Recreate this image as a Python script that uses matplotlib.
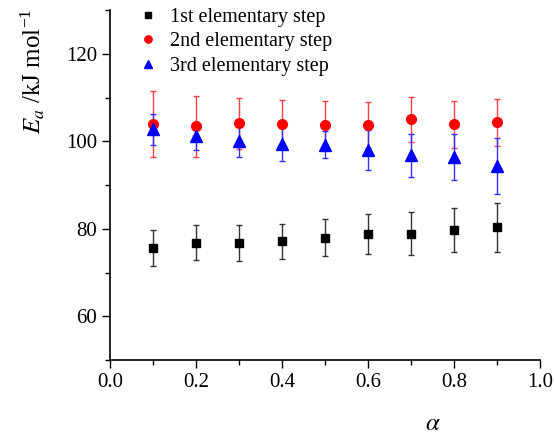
import matplotlib.pyplot as plt
from matplotlib.lines import Line2D
from matplotlib.ticker import MultipleLocator

plt.rcParams['font.family'] = ['Liberation Serif', 'DejaVu Serif']
plt.rcParams['mathtext.fontset'] = 'stix'

# conversion degree
alpha = [0.1, 0.2, 0.3, 0.4, 0.5, 0.6, 0.7, 0.8, 0.9]

# activation energies (kJ/mol) and error bars for each step
ea_step1 = [75.6, 76.8, 76.7, 77.1, 78.0, 78.8, 78.9, 79.8, 80.3]
err_step1 = [4.1, 4.0, 4.05, 4.0, 4.2, 4.5, 4.9, 5.0, 5.7]

ea_step2 = [104.0, 103.4, 104.1, 103.9, 103.8, 103.7, 105.0, 103.9, 104.3]
err_step2 = [7.5, 7.0, 5.9, 5.5, 5.5, 5.3, 5.1, 5.4, 5.3]

ea_step3 = [102.7, 101.3, 100.0, 99.3, 99.2, 98.0, 96.8, 96.4, 94.4]
err_step3 = [3.6, 3.2, 3.6, 3.8, 3.1, 4.6, 4.9, 5.2, 6.4]

labels = ['1st elementary step', '2nd elementary step', '3rd elementary step']
markers = ['s', 'o', '^']
colors = ['black', '#ff0000', '#0000ff']
ecolors = ['#333333', '#ff4040', '#3030ff']
sizes = [6, 7, 8]

fig = plt.figure(figsize=(5.54, 4.36), dpi=100)
ax = fig.add_axes([0.1986, 0.1743, 0.7761, 0.8027])

series = [(ea_step1, err_step1), (ea_step2, err_step2), (ea_step3, err_step3)]
for (vals, errs), m, c, ec, s in zip(series, markers, colors, ecolors, sizes):
    ax.errorbar(alpha, vals, yerr=errs, fmt=m, color=c, ecolor=ec, ms=s,
                capsize=2.5, elinewidth=1, capthick=1)

ax.set_xlim(0, 1.0)
ax.set_ylim(50, 130)
ax.xaxis.set_major_locator(MultipleLocator(0.2))
ax.xaxis.set_minor_locator(MultipleLocator(0.1))
ax.yaxis.set_major_locator(MultipleLocator(20))
ax.yaxis.set_minor_locator(MultipleLocator(10))
ax.tick_params(which='major', direction='out', length=6, width=1, labelsize=15)
ax.tick_params(which='minor', direction='out', length=3.5, width=1)

for side in ['top', 'right']:
    ax.spines[side].set_visible(False)
for side in ['left', 'bottom']:
    ax.spines[side].set_linewidth(1.2)

ax.set_xlabel(r'$\alpha$', fontsize=18)
ax.xaxis.set_label_coords(0.75, -0.15)
ax.set_ylabel(r'$E_a$ /kJ mol$^{\mathregular{-1}}$', fontsize=18)
ax.yaxis.set_label_coords(-0.15, 0.825)

# legend shows markers only, no error bars
handles = [Line2D([], [], linestyle='none', marker=m, color=c, ms=s * 0.75)
           for m, c, s in zip(markers, colors, sizes)]
ax.legend(handles, labels, loc='upper left', bbox_to_anchor=(0.017, 1.057),
          frameon=False, fontsize=14.5, handletextpad=0.5, labelspacing=0.25,
          handlelength=1.2)

fig.savefig('out.png', dpi=100)
